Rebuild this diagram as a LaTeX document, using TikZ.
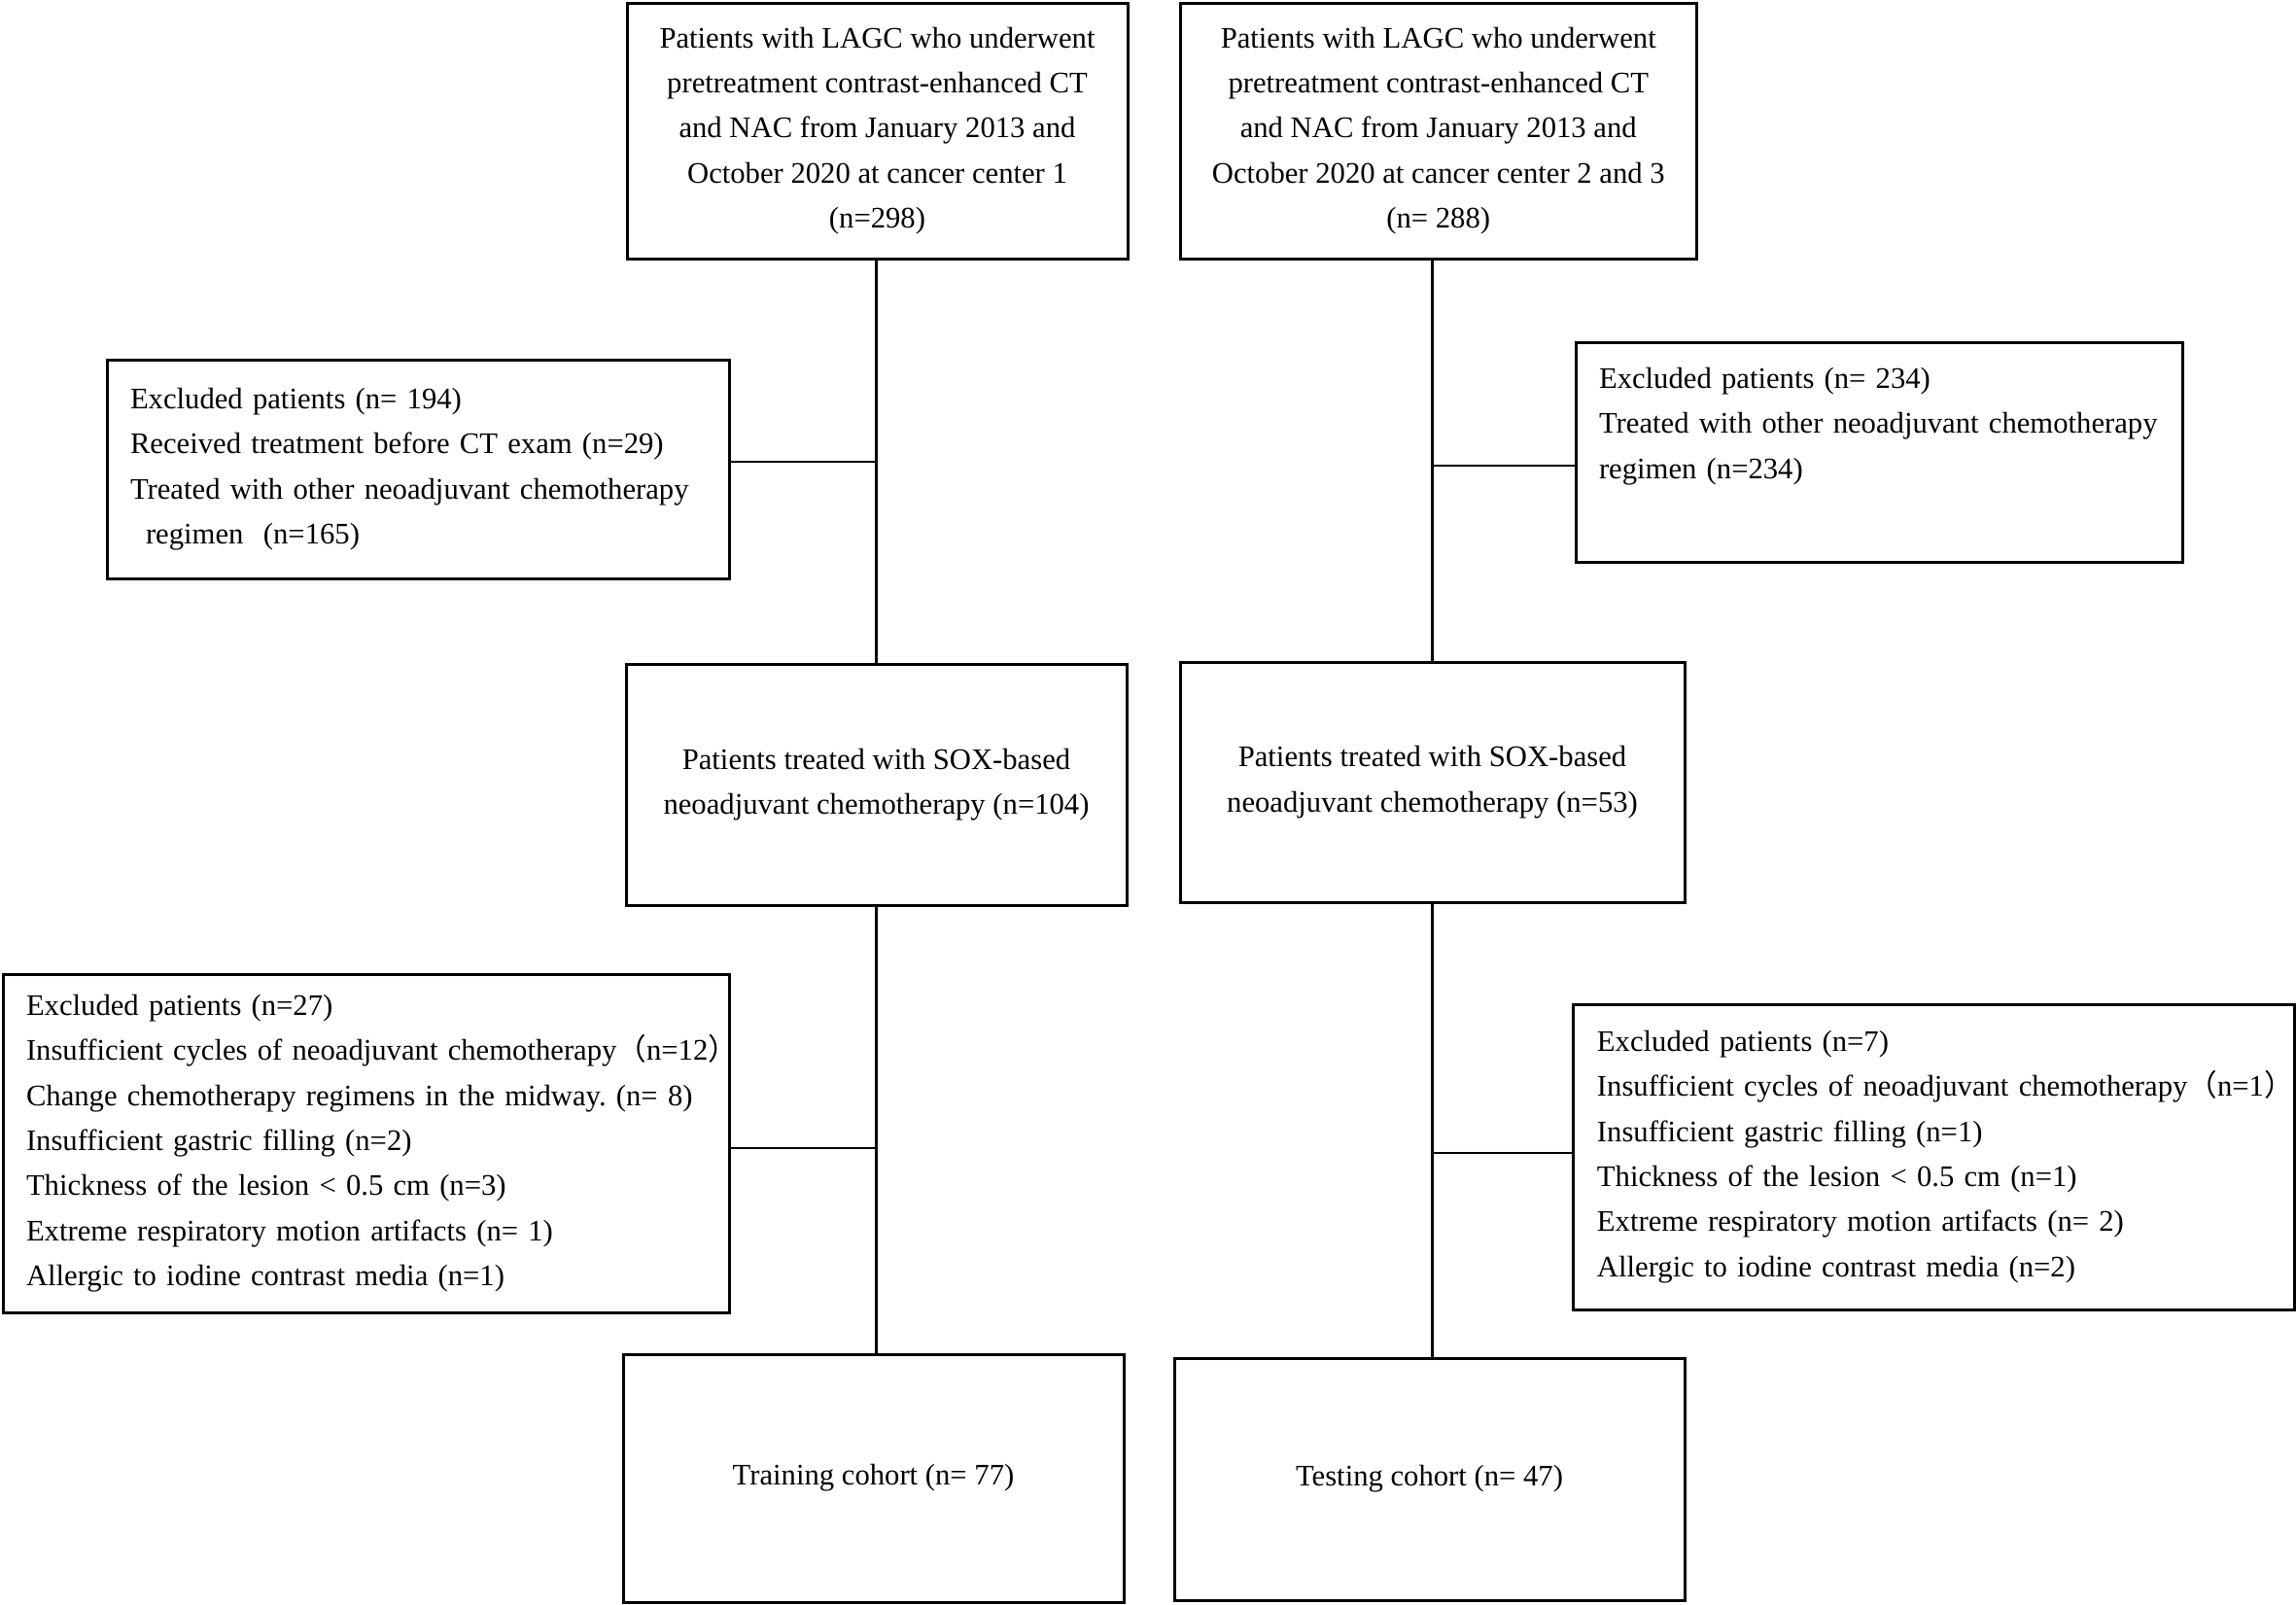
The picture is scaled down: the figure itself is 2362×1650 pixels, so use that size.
\documentclass[tikz,border=0pt]{standalone}
\usepackage{fontspec}
\setmainfont{Liberation Serif}
\newfontfamily\cjkfont{Noto Sans CJK SC}
\newcommand{\fwl}{{\cjkfont （}}
\newcommand{\fwr}{{\cjkfont ）}}
\frenchspacing
\begin{document}
\begin{tikzpicture}[x=0.3pt,y=-0.3pt,
  box/.style={draw, line width=0.9pt, inner sep=0pt, font=\fontsize{9.2pt}{13.9pt}\selectfont},
  cbox/.style={box, align=center},
  exbox/.style={box, align=left, inner xsep=7.2pt},
  link/.style={line width=0.85pt}]
\fill[white] (0,0) rectangle (2362,1650);
\useasboundingbox (0,0) rectangle (2362,1650);

% top boxes
\node[cbox, minimum width=154.5pt, minimum height=78.9pt] (tl) at (902.5,134.5)
  {Patients with LAGC who underwent\\pretreatment contrast-enhanced CT\\and NAC from January 2013 and\\October 2020 at cancer center 1\\(n=298)};
\node[cbox, minimum width=159.15pt, minimum height=78.9pt] (tr) at (1479.75,134.5)
  {Patients with LAGC who underwent\\pretreatment contrast-enhanced CT\\and NAC from January 2013 and\\October 2020 at cancer center 2 and 3\\(n= 288)};

% first exclusion boxes
\node[exbox, text width=177.6pt, minimum height=67.5pt] (ex1) at (430,482.5)
  {Excluded patients (n= 194)\\Received treatment before CT exam (n=29)\\\mbox{Treated with other neoadjuvant chemotherapy}\\\hspace*{4.8pt}regimen\ \ (n=165)};
\node[exbox, text width=172.95pt, minimum height=67.8pt] (ex2) at (1933.25,465)
  {Excluded patients (n= 234)\\\mbox{Treated with other neoadjuvant chemotherapy}\\regimen (n=234)\\[4pt]\mbox{}};

% middle boxes
\node[cbox, minimum width=154.5pt, minimum height=74.4pt] (ml) at (901.5,807)
  {Patients treated with SOX-based\\neoadjuvant chemotherapy (n=104)};
\node[cbox, minimum width=155.7pt, minimum height=74.1pt] (mr) at (1473.5,804.5)
  {Patients treated with SOX-based\\neoadjuvant chemotherapy (n=53)};

% second exclusion boxes
\node[exbox, text width=209.7pt, minimum height=104.4pt] (ex3) at (376.5,1176)
  {Excluded patients (n=27)\\
   \mbox{Insufficient cycles of neoadjuvant chemotherapy\fwl n=12\fwr}\\
   \mbox{Change chemotherapy regimens in the midway. (n= 8)}\\
   Insufficient gastric filling (n=2)\\
   Thickness of the lesion < 0.5 cm (n=3)\\
   Extreme respiratory motion artifacts (n= 1)\\
   Allergic to iodine contrast media (n=1)};
\node[exbox, text width=208.1pt, minimum height=94.2pt] (ex4) at (1989.8,1190)
  {Excluded patients (n=7)\\
   \mbox{Insufficient cycles of neoadjuvant chemotherapy\fwl n=1\fwr}\\
   Insufficient gastric filling (n=1)\\
   Thickness of the lesion < 0.5 cm (n=1)\\
   Extreme respiratory motion artifacts (n= 2)\\
   Allergic to iodine contrast media (n=2)};

% bottom boxes
\node[cbox, minimum width=154.5pt, minimum height=76.5pt] (bl) at (898.5,1520.5)
  {Training cohort (n= 77)};
\node[cbox, minimum width=157.5pt, minimum height=74.7pt] (br) at (1470.5,1521.5)
  {Testing cohort (n= 47)};

% connectors
\draw[link] (tl.south -| ml.north) -- (ml.north);
\draw[link] (ml.south) -- (ml.south |- bl.north);
\draw[link] (tr.south -| mr.north) -- (mr.north);
\draw[link] (mr.south) -- (mr.south |- br.north);

\coordinate (j1) at (ml.north |- 0,475);
\draw[link] (j1) -- (j1 -| ex1.east);
\coordinate (j2) at (mr.north |- 0,479);
\draw[link] (j2) -- (j2 -| ex2.west);
\coordinate (j3) at (ml.south |- 0,1181);
\draw[link] (j3) -- (j3 -| ex3.east);
\coordinate (j4) at (mr.south |- 0,1186);
\draw[link] (j4) -- (j4 -| ex4.west);
\end{tikzpicture}
\end{document}
